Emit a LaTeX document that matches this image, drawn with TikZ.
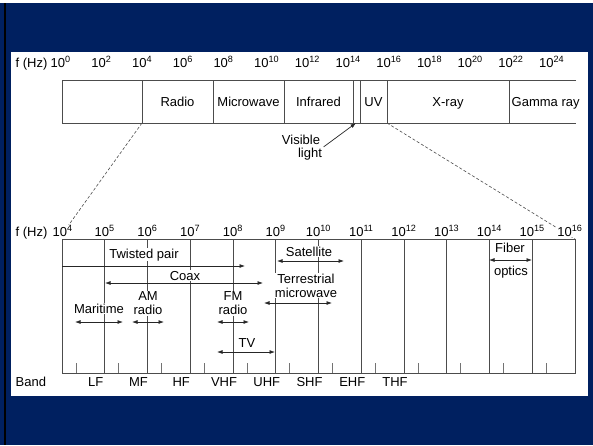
\documentclass[tikz,border=0pt]{standalone}
\usepackage{fontspec}
\setmainfont{Liberation Sans}
\usetikzlibrary{arrows.meta,calc}

\begin{document}
\begin{tikzpicture}[
    x=1pt, y=-1pt,
    >={Latex[length=5.5pt,width=4pt]},
    every node/.style={font=\fontsize{13}{14}\selectfont, inner sep=0.5pt},
    lbl/.style={fill=white, align=center},
    scaleline/.style={black!70, line width=0.8pt},
    tickmark/.style={black!55, line width=0.7pt},
    spanarrow/.style={<->, black!85, line width=0.8pt},
    zoomline/.style={black!70, line width=0.6pt, dash pattern=on 3pt off 2pt},
]

\definecolor{slideBlue}{RGB}{0,32,96}

\def\xl{62}      % left edge of both scales
\def\dx{42.75}   % one decade on the lower scale

% Slide background
\fill[slideBlue] (0,0) rectangle (593,445);
\fill[white] (0,0) rectangle (593,3);
\fill[black] (4,3) rectangle (6,445);
\fill[white] (11,52) rectangle (588,396);
\useasboundingbox (0,0) rectangle (593,445);

% ============================================================
% UPPER SCALE (whole spectrum)
% ============================================================
\node[anchor=base west] (fhzTop) at (15,67) {f (Hz)};
\foreach \e [count=\i from 0] in {0,2,...,24} {
    \node[anchor=base west] (top\e) at ({50+40.7*\i},67) {10\textsuperscript{\e}};
}

\draw[scaleline] (576,80) -- (\xl,80) -- (\xl,123) -- (576,123);
\foreach \x/\n in {142/r4, 213/mw, 284/ir, 353/visA, 360/visB, 387/uv, 509/xr} {
    \coordinate (\n T) at (\x,80);
    \coordinate (\n B) at (\x,123);
    \draw[scaleline] (\n T) -- (\n B);
}

\node[anchor=base] (radio) at (177.5,106) {Radio};
\node[anchor=base] (microwave) at (248.5,106) {Microwave};
\node[anchor=base] (infrared) at (318.5,106) {Infrared};
\node[anchor=base] (uv) at (373.5,106) {UV};
\node[anchor=base] (xray) at (448,106) {X-ray};
\node[anchor=base west] (gamma) at (511,106) {Gamma ray};

% Visible light pointer
\node[anchor=base] (visTxt) at (301,144) {Visible};
\node[anchor=base] (lightTxt) at (310,157) {light};
\coordinate (visTip) at (356,123);
\draw[->, black!85, line width=0.7pt] ($(lightTxt.north east)+(1,0)$) -- (visTip);

% ============================================================
% LOWER SCALE (10^4 ... 10^16 Hz)
% ============================================================
\coordinate (lowNW) at (\xl,239);
\coordinate (lowNE) at ({\xl+12*\dx},239);

% zoom lines from upper scale
\draw[zoomline] (r4B) -- (68,226);
\draw[zoomline] (uvB) -- (lowNE);

\node[anchor=base west] (fhzLow) at (15,236) {f (Hz)};
\node[anchor=base west, fill=white] (low4) at (52,236) {10\textsuperscript{4}};
\foreach \k in {5,...,15} {
    \pgfmathsetmacro{\xk}{\xl+\dx*(\k-4)}
    \node[anchor=base, fill=white] (low\k) at (\xk,236) {10\textsuperscript{\k}};
}
\node[anchor=base, fill=white] (low16) at (570,236) {10\textsuperscript{16}};

\draw[scaleline] (lowNW) rectangle ({\xl+12*\dx},373);
\foreach \k in {5,...,15} {
    \pgfmathsetmacro{\xk}{\xl+\dx*(\k-4)}
    \draw[scaleline] (\xk,239) -- (\xk,373);
}
\foreach \k in {4,...,15} {
    \pgfmathsetmacro{\xk}{\xl+\dx*(\k-4)+14}
    \draw[tickmark] (\xk,363) -- (\xk,373);
}

% Transmission media and services
\node[lbl, anchor=base] (twisted) at (144,258) {Twisted pair};
\node[lbl, anchor=base] (coax) at (185,280) {Coax};
\node[lbl, anchor=base] (maritime) at (99,313) {Maritime};
\node[lbl] (amRadio) at (148,303.5) {AM\\radio};
\node[lbl] (fmRadio) at (233,303.5) {FM\\radio};
\node[lbl, anchor=base] (tv) at (247,347) {TV};
\node[lbl, anchor=base] (satellite) at (309,256) {Satellite};
\node[lbl] (terrestrial) at (306,285.5) {Terrestrial\\microwave};
\node[lbl, anchor=base] (fiber) at (510,252) {Fiber};
\node[lbl, anchor=base] (optics) at (511,275) {optics};

\coordinate (twL) at (\xl,266);    \coordinate (twR) at (245,266);
\coordinate (coL) at (105,283);    \coordinate (coR) at (263,283);
\coordinate (maL) at (75,322);     \coordinate (maR) at (123,322);
\coordinate (amL) at (132,322);    \coordinate (amR) at (164,322);
\coordinate (fmL) at (217,322);    \coordinate (fmR) at (249,322);
\coordinate (tvL) at (217,352);    \coordinate (tvR) at (275,352);
\coordinate (saL) at (277,261);    \coordinate (saR) at (344,261);
\coordinate (teL) at (264,303);    \coordinate (teR) at (332,303);
\coordinate (fiL) at (489,260);    \coordinate (fiR) at (532,260);

\draw[->, black!85, line width=0.8pt] (twL) -- (twR);
\foreach \r in {co,ma,am,fm,tv,sa,te,fi} {
    \draw[spanarrow] (\r L) -- (\r R);
}

% Band names
\node[anchor=base west] (band) at (15,386) {Band};
\foreach \b [count=\i from 5] in {LF,MF,HF,VHF,UHF,SHF,EHF,THF} {
    \pgfmathsetmacro{\xk}{\xl+\dx*(\i-4)-9}
    \node[anchor=base] (band\b) at (\xk,386) {\b};
}

\end{tikzpicture}
\end{document}
